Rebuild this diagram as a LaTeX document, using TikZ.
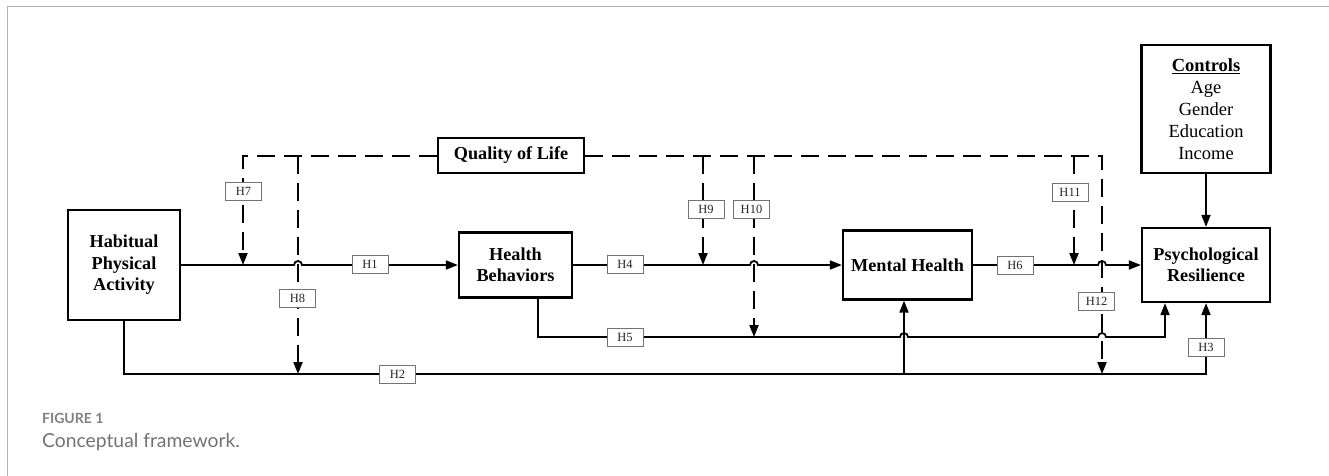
\documentclass[tikz,border=0pt]{standalone}
\usepackage{fontspec}
\setmainfont{Liberation Serif}
\newfontfamily\capfont{Lato}
\usetikzlibrary{arrows.meta}
\begin{document}
\begin{tikzpicture}[x=1pt,y=-1pt,
  box/.style={draw, line width=2.2pt, align=center, inner sep=0pt,
    font=\fontsize{18.2}{21.5}\selectfont\bfseries},
  tip/.style={-{Triangle[length=12pt,width=9pt]}},
  conn/.style={line width=1.8pt, tip},
  dashconn/.style={line width=2pt, dash pattern=on 18pt off 9pt},
  lab/.style={draw=black!55, line width=0.8pt, fill=white, minimum width=36pt,
    minimum height=18pt, inner sep=0pt, text=black!85,
    font=\fontsize{12.5}{14}\selectfont},
]
\useasboundingbox (0,0) rectangle (1329,475);
% outer frame
\draw[black!30, line width=1.4pt] (7.3,480) -- (7.3,6.7) -- (1335,6.7);

% boxes
\node[box, minimum width=112pt, minimum height=110pt] (hpa) at (124,265) {Habitual\\Physical\\Activity};
\node[box, minimum width=113pt, minimum height=65pt] (hb) at (515.5,265) {Health\\Behaviors};
\node[box, minimum width=129pt, minimum height=69pt] (mh) at (907.5,265) {Mental Health};
\node[box, minimum width=128pt, minimum height=74pt] (pr) at (1206,265) {Psychological\\Resilience};
\node[box, minimum width=129pt, minimum height=128pt, font=\fontsize{18.5}{22}\selectfont] (ctrl) at (1206,109) {\textbf{\underline{Controls}}\\Age\\Gender\\Education\\Income};
\node[box, minimum width=146pt, minimum height=35pt] (qol) at (511,155.5) {Quality of Life};

% junction coordinates
\coordinate (h2y) at (0,374);
\coordinate (j7) at (243,265);
\coordinate (j8) at (298,374);
\coordinate (j9) at (703,265);
\coordinate (j10) at (754,337);
\coordinate (j11) at (1074,265);
\coordinate (j12) at (1102,374);

% solid paths
\draw[conn] (hpa.east) -- (294,265) arc[start angle=180,end angle=0,radius=4pt] -- (hb.west);
\draw[conn] (hb.east) -- (750,265) arc[start angle=180,end angle=0,radius=4pt] -- (mh.west);
\draw[conn] (mh.east) -- (1098,265) arc[start angle=180,end angle=0,radius=4pt] -- (pr.west);
\draw[conn] ([xshift=22.5pt]hb.south) |- (900,337) arc[start angle=180,end angle=0,radius=4pt]
   -- (1098,337) arc[start angle=180,end angle=0,radius=4pt] -- (1165,337) -- ([xshift=-41pt]pr.south);
\draw[conn] (hpa.south) |- (pr.south |- h2y) -- (pr.south);
\draw[conn] (904,374) -- ([xshift=-3.5pt]mh.south);
\draw[conn] (ctrl.south) -- (pr.north);

% dashed moderation paths
\draw[dashconn, tip] (qol.west) -| (j7);
\draw[dashconn, tip] (j8 |- qol.west) -- (j8);
\draw[dashconn, tip] (qol.east) -| (j12);
\draw[dashconn, tip] (j9 |- qol.east) -- (j9);
\draw[dashconn, tip] (j10 |- qol.east) -- (j10);
\draw[dashconn, tip] (j11 |- qol.east) -- (j11);

% hypothesis labels
\node[lab] (l1) at (370,264) {H1};
\node[lab] (l2) at (397.5,374) {H2};
\node[lab] (l3) at (1206,347) {H3};
\node[lab] (l4) at (625,264) {H4};
\node[lab] (l5) at (625,337.5) {H5};
\node[lab] (l6) at (1015,265) {H6};
\node[lab] (l7) at (243.5,191.5) {H7};
\node[lab] (l8) at (297.5,298) {H8};
\node[lab] (l9) at (706,209.5) {H9};
\node[lab] (l10) at (751.5,209.5) {H10};
\node[lab] (l11) at (1070,192) {H11};
\node[lab] (l12) at (1096.5,301) {H12};

% caption
\node[anchor=base west, inner sep=0pt, text=black!50, font=\capfont\bfseries\fontsize{14}{16}\selectfont] (fig) at (42,423) {FIGURE 1};
\node[anchor=base west, inner sep=0pt, text=black!55, font=\capfont\fontsize{19.3}{24}\selectfont] (capt) at (42,447) {Conceptual framework.};
\end{tikzpicture}
\end{document}
